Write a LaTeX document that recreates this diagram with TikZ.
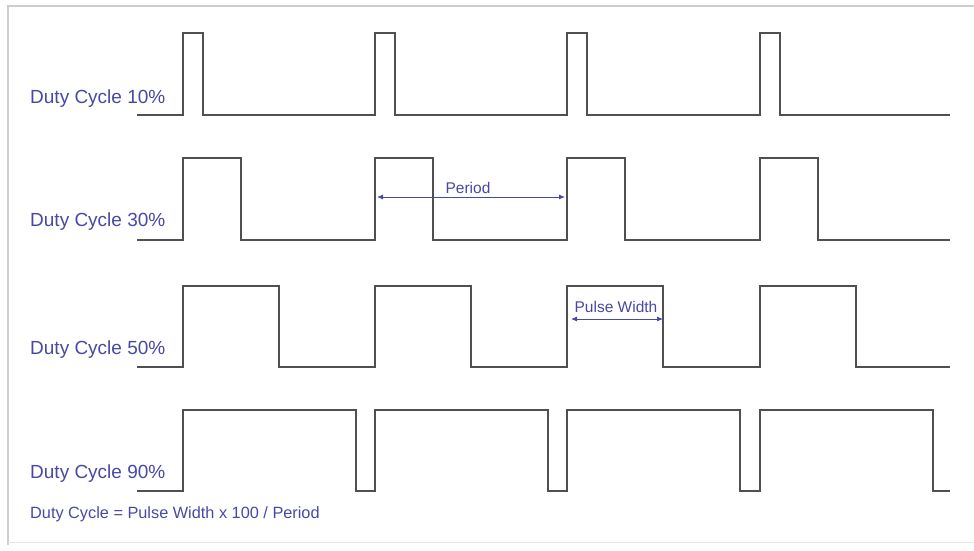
\documentclass[tikz,border=0pt]{standalone}
\usepackage{fontspec}
\setmainfont{Liberation Sans}
\usetikzlibrary{arrows.meta}
\definecolor{lbl}{RGB}{72,72,165}
\definecolor{wave}{RGB}{80,80,80}
\definecolor{frm}{RGB}{205,205,205}
\begin{document}
\begin{tikzpicture}[x=1pt,y=-1pt,
  wavepath/.style={draw=wave,line width=2.6pt,line join=miter},
  rowlabel/.style={anchor=base west,inner sep=0pt,text=lbl,font=\fontsize{19}{21}\selectfont},
  smalllabel/.style={anchor=base,inner sep=0pt,text=lbl,font=\fontsize{15.5}{17}\selectfont},
  dim/.style={draw=lbl,line width=0.8pt,{Latex[length=6pt,width=5pt]}-{Latex[length=6pt,width=5pt]}}]
\useasboundingbox (0,0) rectangle (974,551);
% frame
\draw[frm,line width=2pt] (8,545) -- (8,6) -- (974,6);
\draw[frm!50,line width=1pt] (8,542) -- (974,542);
% waveforms
\draw[wavepath] (137,115) foreach \r in {183,375,567,760} { -- (\r,115) -- (\r,33) -- (\r+20,33) -- (\r+20,115) } -- (950,115);
\draw[wavepath] (137,240) foreach \r in {183,375,567,760} { -- (\r,240) -- (\r,158) -- (\r+58,158) -- (\r+58,240) } -- (950,240);
\draw[wavepath] (137,367) foreach \r in {183,375,567,760} { -- (\r,367) -- (\r,286) -- (\r+96,286) -- (\r+96,367) } -- (950,367);
\draw[wavepath] (137,491) foreach \r in {183,375,567,760} { -- (\r,491) -- (\r,410) -- (\r+173,410) -- (\r+173,491) } -- (950,491);
% labels
\node[rowlabel] (l10) at (30,103) {Duty Cycle 10\%};
\node[rowlabel] (l30) at (30,226) {Duty Cycle 30\%};
\node[rowlabel] (l50) at (30,354) {Duty Cycle 50\%};
\node[rowlabel] (l90) at (30,478) {Duty Cycle 90\%};
\node[anchor=base west,inner sep=0pt,text=lbl,font=\fontsize{16.3}{18}\selectfont] (formula) at (30,518) {Duty Cycle = Pulse Width x 100 / Period};
% dimension arrows
\coordinate (pa) at (377,197);
\coordinate (pb) at (565,197);
\draw[dim] (pa) -- (pb);
\node[smalllabel] (period) at (468,193) {Period};
\coordinate (wa) at (571,319);
\coordinate (wb) at (663,319);
\draw[dim] (wa) -- (wb);
\node[smalllabel] (pw) at (616,312) {Pulse Width};
\end{tikzpicture}
\end{document}
